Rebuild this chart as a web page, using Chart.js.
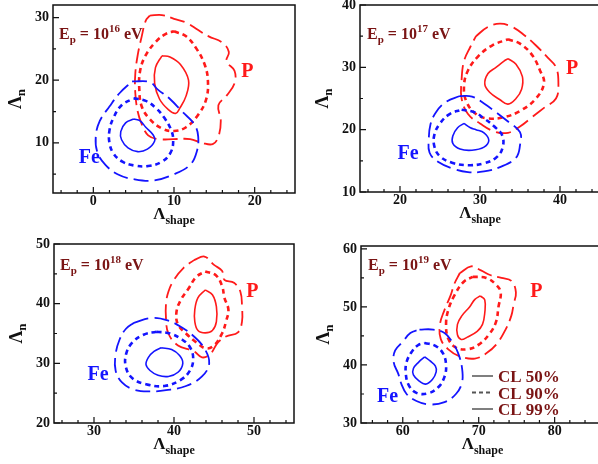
<!DOCTYPE html>
<html>
<head>
<meta charset="utf-8">
<script src="https://cdn.jsdelivr.net/npm/chart.js@4.4.0/dist/chart.umd.min.js"></script>
<style>
  html, body { margin: 0; padding: 0; background: #fff; }
  body { width: 598px; height: 464px; overflow: hidden; position: relative; }
  canvas { position: absolute; }
</style>
</head>
<body>
<canvas id="c16"></canvas>
<canvas id="c17"></canvas>
<canvas id="c18"></canvas>
<canvas id="c19"></canvas>
<script>
// contour lines, [x, y] = [Lambda_shape, Lambda_n]
// E = 1e16 eV
const fe16_50 = [[5.0,13.8],[4.0,13.2],[3.4,11.8],[3.5,10.5],[4.3,9.2],[5.5,8.6],[6.7,9.0],[7.6,10.3],[7.4,11.3],[6.5,12.5],[5.8,13.5],[5.0,13.8]];
const fe16_90 = [[5.0,17.1],[6.5,16.7],[7.8,15.5],[8.8,14.0],[9.6,12.2],[9.9,10.5],[9.6,8.5],[8.5,7.0],[6.8,6.3],[5.0,6.4],[3.6,7.0],[2.5,8.3],[2.0,10.0],[2.0,12.0],[2.5,14.0],[3.5,16.0],[5.0,17.1]];
const fe16_99 = [[4.8,19.8],[7.0,19.7],[8.0,18.5],[9.5,17.0],[11.0,15.0],[12.5,13.0],[13.0,11.0],[12.8,8.5],[12.0,6.5],[10.0,5.0],[7.5,4.0],[5.0,4.2],[3.0,5.0],[1.5,6.5],[0.5,8.5],[0.3,11.0],[0.8,13.5],[2.0,15.8],[3.3,18.0],[4.8,19.8]];
const p16_50 = [[8.5,23.9],[9.5,23.7],[10.8,22.5],[11.8,20.0],[11.5,17.5],[10.7,15.5],[10.2,14.7],[9.3,15.3],[8.2,17.0],[7.6,19.5],[7.7,22.0],[8.5,23.9]];
const p16_90 = [[10.0,27.8],[11.5,27.0],[12.8,25.0],[13.8,22.5],[14.2,20.0],[14.0,17.0],[13.0,14.5],[11.5,12.5],[10.0,11.9],[8.5,12.3],[7.0,13.8],[6.0,15.8],[5.7,18.5],[5.8,21.5],[6.5,24.0],[7.8,26.2],[9.0,27.4],[10.0,27.8]];
const p16_99 = [[7.0,30.3],[8.5,30.4],[10.0,29.8],[11.5,29.2],[13.0,28.0],[14.3,27.0],[16.0,26.0],[16.8,24.5],[16.5,23.0],[17.5,21.5],[17.5,19.5],[16.5,17.5],[15.5,16.0],[15.8,13.5],[15.5,11.0],[14.8,9.8],[13.5,10.0],[12.0,10.6],[10.0,10.6],[8.0,10.6],[6.8,11.2],[6.0,13.0],[5.5,15.0],[5.2,18.0],[5.2,21.0],[5.5,24.0],[6.0,27.0],[6.5,29.5],[7.0,30.3]];
// E = 1e17 eV
const fe17_50 = [[28.0,21.0],[28.8,20.3],[29.5,20.0],[30.5,19.5],[31.1,18.3],[30.5,17.2],[29.0,16.7],[27.5,16.9],[26.6,17.8],[26.6,19.0],[27.2,20.3],[28.0,21.0]];
const fe17_90 = [[27.7,23.2],[29.3,22.8],[30.5,21.8],[31.8,20.5],[32.8,19.0],[32.8,17.0],[32.0,15.5],[30.5,14.6],[28.5,14.3],[26.5,14.7],[25.0,15.7],[24.3,17.3],[24.3,19.2],[25.0,21.0],[26.2,22.5],[27.7,23.2]];
const fe17_99 = [[27.5,25.4],[29.0,25.3],[30.5,24.2],[32.0,22.8],[33.5,21.3],[35.0,19.6],[35.0,17.5],[34.5,15.5],[32.5,14.0],[30.5,13.3],[28.5,13.2],[26.5,13.8],[24.8,14.8],[23.7,16.3],[23.6,18.5],[23.8,20.8],[24.5,22.8],[25.8,24.5],[27.5,25.4]];
const p17_50 = [[33.5,31.4],[34.5,30.5],[35.3,28.5],[35.2,26.5],[34.5,25.0],[33.5,24.1],[32.5,24.8],[31.2,26.0],[30.6,27.3],[31.0,29.0],[32.0,30.0],[33.0,31.0],[33.5,31.4]];
const p17_90 = [[33.5,34.5],[35.0,33.8],[36.5,32.0],[37.5,29.5],[38.0,27.5],[37.0,25.0],[35.0,23.0],[33.0,22.0],[31.0,21.8],[29.5,22.5],[28.3,24.5],[28.0,27.0],[28.5,29.5],[29.8,31.8],[31.5,33.5],[33.5,34.5]];
const p17_99 = [[29.5,35.0],[31.0,36.5],[32.5,37.0],[34.0,36.5],[35.5,35.2],[37.0,33.5],[38.5,31.5],[39.5,30.0],[39.8,27.5],[39.5,25.0],[38.0,23.5],[36.5,22.0],[35.0,20.5],[33.5,19.5],[31.8,19.7],[30.0,21.0],[28.5,22.5],[27.7,25.0],[27.7,28.0],[28.0,31.0],[28.8,33.3],[29.5,35.0]];
// E = 1e18 eV
const fe18_50 = [[38.4,32.6],[39.7,32.3],[40.7,31.3],[41.1,30.0],[40.5,28.5],[39.3,27.8],[38.0,28.0],[37.0,28.8],[36.5,29.8],[36.8,31.0],[37.5,32.0],[38.4,32.6]];
const fe18_90 = [[37.8,35.3],[39.5,35.0],[41.0,34.0],[42.0,32.7],[42.4,30.8],[42.0,28.8],[40.8,27.2],[38.8,26.2],[36.5,26.5],[34.8,27.5],[34.0,29.3],[34.0,31.5],[34.8,33.5],[36.2,34.8],[37.8,35.3]];
const fe18_99 = [[35.0,36.8],[37.2,37.6],[39.2,37.2],[41.0,36.0],[42.5,34.5],[43.8,32.5],[44.4,30.0],[43.5,27.8],[41.5,26.2],[39.0,25.5],[37.0,25.3],[35.0,25.6],[33.5,26.8],[32.7,28.8],[32.7,31.5],[33.2,34.0],[34.0,35.8],[35.0,36.8]];
const p18_50 = [[43.9,42.3],[44.8,41.5],[45.3,39.5],[45.3,37.0],[44.8,35.5],[43.9,35.1],[43.0,35.5],[42.6,37.0],[42.6,39.0],[43.0,41.0],[43.9,42.3]];
const p18_90 = [[43.9,45.4],[45.2,44.8],[46.0,43.0],[46.3,41.0],[46.8,39.0],[46.5,37.0],[46.0,35.0],[45.0,33.0],[44.0,32.5],[42.8,33.5],[41.5,35.0],[40.5,36.5],[40.3,38.5],[40.8,40.5],[41.8,42.5],[42.8,44.5],[43.9,45.4]];
const p18_99 = [[42.5,47.3],[43.8,47.9],[45.0,46.5],[46.0,45.5],[46.3,44.0],[47.5,43.5],[48.3,42.0],[48.5,39.5],[48.5,37.0],[48.0,35.2],[46.5,34.5],[45.5,33.5],[44.5,31.5],[43.5,31.0],[42.5,32.0],[40.5,33.0],[39.3,35.0],[39.0,37.5],[39.0,40.0],[39.3,42.0],[40.0,44.0],[41.2,46.0],[42.5,47.3]];
// E = 1e19 eV
const fe19_50 = [[62.9,41.4],[63.6,40.7],[64.3,39.8],[64.4,38.8],[63.9,37.5],[63.0,36.7],[62.2,37.2],[61.4,38.3],[61.4,39.4],[62.1,40.5],[62.9,41.4]];
const fe19_90 = [[62.9,43.8],[64.3,43.3],[65.3,42.0],[65.7,40.0],[65.5,38.0],[64.7,36.2],[63.3,35.1],[61.8,35.2],[60.8,36.5],[60.4,38.5],[60.5,40.5],[61.2,42.3],[62.0,43.4],[62.9,43.8]];
const fe19_99 = [[62.2,46.1],[64.0,46.1],[65.5,45.5],[66.5,44.0],[67.3,42.0],[67.8,39.5],[67.8,37.0],[67.0,35.0],[65.5,33.6],[63.5,33.2],[61.8,33.8],[60.5,35.0],[59.8,36.8],[59.4,38.5],[58.8,40.5],[59.0,42.5],[60.0,44.0],[61.0,45.5],[62.2,46.1]];
const p19_50 = [[70.2,51.9],[70.8,51.2],[70.8,49.0],[70.5,47.0],[69.8,45.8],[68.5,44.8],[67.7,44.4],[67.2,45.2],[67.2,47.0],[67.8,48.5],[68.8,50.0],[69.5,51.3],[70.2,51.9]];
const p19_90 = [[69.2,55.2],[71.0,55.0],[72.3,53.8],[72.9,52.5],[72.6,50.0],[72.3,47.5],[71.5,45.5],[70.0,43.5],[68.5,42.7],[67.0,43.0],[66.0,44.5],[65.7,47.0],[66.0,49.5],[66.8,52.0],[68.0,54.3],[69.2,55.2]];
const p19_99 = [[67.5,55.8],[69.0,57.0],[70.3,56.3],[71.5,55.5],[73.0,55.0],[74.3,54.5],[74.9,52.5],[74.6,50.5],[74.3,48.5],[73.5,46.0],[72.3,43.5],[71.0,42.0],[69.5,41.1],[67.5,41.5],[66.0,42.7],[65.0,44.5],[64.9,47.0],[65.5,49.5],[66.3,52.0],[66.8,54.0],[67.5,55.8]];

// tick labels
const xTicks16 = [0, 10, 20], yTicks16 = [10, 20, 30];
const xTicks17 = [20, 30, 40], yTicks17 = [10, 20, 30, 40];
const xTicks18 = [30, 40, 50], yTicks18 = [20, 30, 40, 50];
const xTicks19 = [60, 70, 80], yTicks19 = [30, 40, 50, 60];

const clLabels = ['CL 50%', 'CL 90%', 'CL 99%'];

const BLUE = '#1414ff';
const RED = '#ff1a1a';
const MAROON = '#7a1414';
const FONT = '"Liberation Serif", "Times New Roman", serif';

// line style per confidence level: 50%, 90%, 99%
const levelStyle = [
  { w: 1.6, dash: [] },
  { w: 2.6, dash: [5, 4] },
  { w: 1.8, dash: [15, 6] }
];

const panels = [
  { id: 'c16', exp: '16', xr: [-5, 25], yr: [2, 32], box: [53, 5, 295, 193],
    xt: xTicks16, yt: yTicks16, fe: [fe16_50, fe16_90, fe16_99], p: [p16_50, p16_90, p16_99],
    pAt: [19.1, 21.6], feAt: [-0.5, 7.9], eOff: [6, 34] },
  { id: 'c17', exp: '17', xr: [15, 45], yr: [10, 40], box: [360, 5, 600, 192],
    xt: xTicks17, yt: yTicks17, fe: [fe17_50, fe17_90, fe17_99], p: [p17_50, p17_90, p17_99],
    pAt: [41.5, 30.1], feAt: [21.0, 16.4], eOff: [7, 34] },
  { id: 'c18', exp: '18', xr: [25, 55], yr: [20, 50], box: [54, 244, 294, 423],
    xt: xTicks18, yt: yTicks18, fe: [fe18_50, fe18_90, fe18_99], p: [p18_50, p18_90, p18_99],
    pAt: [49.8, 42.3], feAt: [30.5, 28.4], eOff: [6, 26] },
  { id: 'c19', exp: '19', xr: [54.5, 86.5], yr: [30, 60.5], box: [361, 246, 604, 423],
    xt: xTicks19, yt: yTicks19, fe: [fe19_50, fe19_90, fe19_99], p: [p19_50, p19_90, p19_99],
    pAt: [77.6, 53.0], feAt: [58.0, 34.8], eOff: [7, 24], legend: true }
];

const PAD_L = 60, PAD_T = 15, PAD_R = 15, PAD_B = 45;

function rich(ctx, parts, x, y, align) {
  let w = 0;
  parts.forEach(([t, s]) => { ctx.font = 'bold ' + s + 'px ' + FONT; w += ctx.measureText(t).width; });
  let cx = align === 'center' ? x - w / 2 : x;
  parts.forEach(([t, s, dy]) => {
    ctx.font = 'bold ' + s + 'px ' + FONT;
    ctx.fillText(t, cx, y + (dy || 0));
    cx += ctx.measureText(t).width;
  });
}

const decor = {
  id: 'decor',
  afterDraw(chart, args, opts) {
    const pnl = opts.panel;
    const ctx = chart.ctx;
    const a = chart.chartArea;
    const xs = chart.scales.x, ys = chart.scales.y;
    ctx.save();
    // frame
    ctx.strokeStyle = '#111';
    ctx.lineWidth = 1.5;
    ctx.setLineDash([]);
    ctx.strokeRect(a.left, a.top, a.right - a.left, a.bottom - a.top);
    // inward ticks
    ctx.lineWidth = 1.2;
    ctx.beginPath();
    for (let v = Math.ceil(xs.min / 2) * 2; v <= xs.max; v += 2) {
      const px = xs.getPixelForValue(v);
      const len = Math.abs(v % 10) < 1e-9 ? 6 : 3;
      ctx.moveTo(px, a.bottom); ctx.lineTo(px, a.bottom - len);
    }
    for (let v = Math.ceil(ys.min / 5) * 5; v <= ys.max; v += 5) {
      const py = ys.getPixelForValue(v);
      const len = Math.abs(v % 10) < 1e-9 ? 6 : 3;
      ctx.moveTo(a.left, py); ctx.lineTo(a.left + len, py);
    }
    ctx.stroke();

    ctx.textBaseline = 'alphabetic';
    ctx.textAlign = 'left';
    // axis titles
    ctx.fillStyle = '#111';
    rich(ctx, [['\u039B', 17], ['shape', 12, 5]], (a.left + a.right) / 2, a.bottom + 26, 'center');
    ctx.save();
    ctx.translate(a.left - 32, (a.top + a.bottom) / 2);
    ctx.rotate(-Math.PI / 2);
    rich(ctx, [['\u039B', 18], ['n', 13, 4]], 0, 0, 'center');
    ctx.restore();

    // energy label
    ctx.fillStyle = MAROON;
    rich(ctx, [['E', 16], ['p', 11, 4], [' = 10', 16], [pnl.exp, 11, -7], [' eV', 16]],
      a.left + pnl.eOff[0], a.top + pnl.eOff[1], 'left');

    // species labels
    ctx.fillStyle = RED;
    rich(ctx, [['P', 20]], xs.getPixelForValue(pnl.pAt[0]), ys.getPixelForValue(pnl.pAt[1]) + 7, 'center');
    ctx.fillStyle = BLUE;
    rich(ctx, [['Fe', 20]], xs.getPixelForValue(pnl.feAt[0]), ys.getPixelForValue(pnl.feAt[1]) + 7, 'center');

    // line-style key
    if (pnl.legend) {
      clLabels.forEach((lab, i) => {
        const y = a.top + 130 + i * 16.5;
        ctx.strokeStyle = '#555';
        ctx.lineWidth = i === 1 ? 1.8 : 1.5;
        ctx.setLineDash(i === 1 ? [4, 3] : []);
        ctx.beginPath();
        ctx.moveTo(a.left + 111, y); ctx.lineTo(a.left + 132, y);
        ctx.stroke();
        ctx.setLineDash([]);
        ctx.fillStyle = MAROON;
        rich(ctx, [[lab, 17]], a.left + 137, y + 6, 'left');
      });
    }
    ctx.restore();
  }
};

panels.forEach(pnl => {
  const cv = document.getElementById(pnl.id);
  const [l, t, r, b] = pnl.box;
  const w = (r - l) + PAD_L + PAD_R, h = (b - t) + PAD_T + PAD_B;
  cv.width = w; cv.height = h;
  cv.style.width = w + 'px'; cv.style.height = h + 'px';
  cv.style.left = (l - PAD_L) + 'px'; cv.style.top = (t - PAD_T) + 'px';

  const datasets = [];
  [[pnl.fe, BLUE], [pnl.p, RED]].forEach(([levels, color]) => {
    levels.forEach((pts, i) => {
      datasets.push({
        data: pts.map(([x, y]) => ({ x, y })),
        showLine: true,
        borderColor: color,
        borderWidth: levelStyle[i].w,
        borderDash: levelStyle[i].dash,
        pointRadius: 0,
        tension: 0.4,
        fill: false
      });
    });
  });

  const tickFont = { family: FONT, size: 14, weight: 'bold' };
  new Chart(cv, {
    type: 'scatter',
    data: { datasets },
    options: {
      responsive: false,
      animation: false,
      layout: { padding: { left: 0, top: PAD_T, right: PAD_R, bottom: 0 } },
      plugins: { legend: { display: false }, tooltip: { enabled: false }, decor: { panel: pnl } },
      scales: {
        x: {
          type: 'linear', min: pnl.xr[0], max: pnl.xr[1],
          afterBuildTicks: s => { s.ticks = pnl.xt.map(v => ({ value: v })); },
          afterFit: s => { s.height = PAD_B; },
          ticks: { font: tickFont, color: '#111', padding: 0, maxRotation: 0, autoSkip: false },
          grid: { display: false, drawTicks: false },
          border: { display: false }
        },
        y: {
          type: 'linear', min: pnl.yr[0], max: pnl.yr[1],
          afterBuildTicks: s => { s.ticks = pnl.yt.map(v => ({ value: v })); },
          afterFit: s => { s.width = PAD_L; },
          ticks: { font: tickFont, color: '#111', padding: 4, autoSkip: false },
          grid: { display: false, drawTicks: false },
          border: { display: false }
        }
      }
    },
    plugins: [decor]
  });
});
</script>
</body>
</html>
